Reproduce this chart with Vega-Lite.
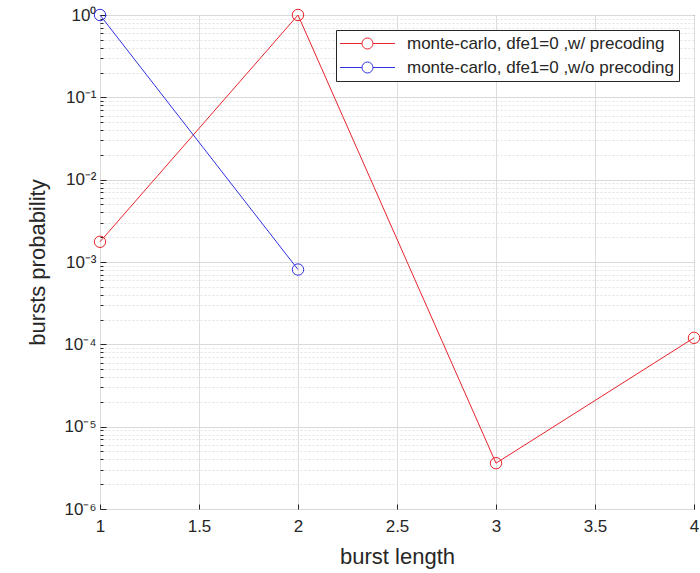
{
  "$schema": "https://vega.github.io/schema/vega-lite/v6.json",
  "autosize": {"type": "none"},
  "width": 594,
  "height": 494,
  "padding": {"left": 100, "top": 15, "right": 6, "bottom": 64},
  "background": "white",
  "config": {
    "font": "Liberation Sans",
    "view": {"stroke": "#262626", "strokeWidth": 1},
    "axis": {"labelColor": "#262626", "titleColor": "#262626", "domainColor": "#262626", "tickColor": "#262626", "labelFont": "Liberation Sans", "titleFont": "Liberation Sans", "titleFontWeight": "normal"}
  },
  "data": {
    "values": [
      {"len": 1, "p": 0.00176, "series": "monte-carlo, dfe1=0 ,w/ precoding"},
      {"len": 2, "p": 1.0, "series": "monte-carlo, dfe1=0 ,w/ precoding"},
      {"len": 3, "p": 0.0000036, "series": "monte-carlo, dfe1=0 ,w/ precoding"},
      {"len": 4, "p": 0.00012, "series": "monte-carlo, dfe1=0 ,w/ precoding"},
      {"len": 1, "p": 1.0, "series": "monte-carlo, dfe1=0 ,w/o precoding"},
      {"len": 2, "p": 0.00081, "series": "monte-carlo, dfe1=0 ,w/o precoding"}
    ]
  },
  "layer": [
    {
      "mark": {"type": "line", "strokeWidth": 1},
      "encoding": {
        "x": {
          "field": "len", "type": "quantitative",
          "scale": {"domain": [1, 4], "nice": false, "zero": false},
          "axis": {
            "title": "burst length", "titleFontSize": 22, "titlePadding": 12,
            "values": [1, 1.5, 2, 2.5, 3, 3.5, 4],
            "format": "~g",
            "labelFontSize": 17, "labelPadding": 14,
            "tickSize": -5, "domain": false,
            "grid": true, "gridColor": "#dddddd", "gridWidth": 1,
            "labelFlush": false
          }
        },
        "y": {
          "field": "p", "type": "quantitative",
          "scale": {"type": "log", "domain": [0.000001, 1], "nice": false},
          "axis": {
            "title": "bursts probability", "titleFontSize": 22, "titlePadding": 14,
            "values": [0.000001, 0.000002, 0.000003, 0.000004, 0.000005, 0.000006, 0.000007, 0.000008, 0.000009,
                       0.00001, 0.00002, 0.00003, 0.00004, 0.00005, 0.00006, 0.00007, 0.00008, 0.00009,
                       0.0001, 0.0002, 0.0003, 0.0004, 0.0005, 0.0006, 0.0007, 0.0008, 0.0009,
                       0.001, 0.002, 0.003, 0.004, 0.005, 0.006, 0.007, 0.008, 0.009,
                       0.01, 0.02, 0.03, 0.04, 0.05, 0.06, 0.07, 0.08, 0.09,
                       0.1, 0.2, 0.3, 0.4, 0.5, 0.6, 0.7, 0.8, 0.9, 1],
            "labelExpr": "abs(log(datum.value)/LN10 - round(log(datum.value)/LN10)) > 0.000001 ? '' : ['10⁻⁶','10⁻⁵','10⁻⁴','10⁻³','10⁻²','10⁻¹','10⁰'][round(log(datum.value)/LN10)+6]",
            "labelFontSize": 17, "labelPadding": 10,
            "labelOverlap": false, "labelFlush": false,
            "domain": false,
            "tickSize": {"condition": {"test": "abs(log(datum.value)/LN10 - round(log(datum.value)/LN10)) < 0.000001", "value": -6}, "value": -3},
            "grid": true,
            "gridColor": {"condition": {"test": "abs(log(datum.value)/LN10 - round(log(datum.value)/LN10)) < 0.000001", "value": "#d9d9d9"}, "value": "#e3e3e3"},
            "gridDash": {"condition": {"test": "abs(log(datum.value)/LN10 - round(log(datum.value)/LN10)) < 0.000001", "value": []}, "value": [2, 2]}
          }
        },
        "color": {
          "field": "series", "type": "nominal",
          "scale": {"domain": ["monte-carlo, dfe1=0 ,w/ precoding", "monte-carlo, dfe1=0 ,w/o precoding"], "range": ["#e8242c", "#3030e0"]},
          "legend": {
            "title": null,
            "orient": "top-right",
            "offset": 15,
            "fillColor": "white",
            "strokeColor": "#262626",
            "padding": 5,
            "labelFontSize": 17,
            "labelColor": "#262626",
            "labelFont": "Liberation Sans",
            "labelLimit": 400,
            "symbolType": "M -5 0 L -1 0 M 1 0 L 5 0 M 1 0 A 1 1 0 1 1 -1 0 A 1 1 0 1 1 1 0",
            "symbolSize": 121,
            "symbolStrokeWidth": 1,
            "symbolFillColor": "transparent",
            "symbolOffset": 18,
            "labelOffset": 31,
            "rowPadding": 6
          }
        },
        "order": {"field": "len", "type": "quantitative"}
      }
    },
    {
      "mark": {"type": "point", "shape": "circle", "filled": false, "size": 130, "strokeWidth": 1, "opacity": 1},
      "encoding": {
        "x": {"field": "len", "type": "quantitative"},
        "y": {"field": "p", "type": "quantitative"},
        "color": {"field": "series", "type": "nominal", "legend": null}
      }
    }
  ]
}
